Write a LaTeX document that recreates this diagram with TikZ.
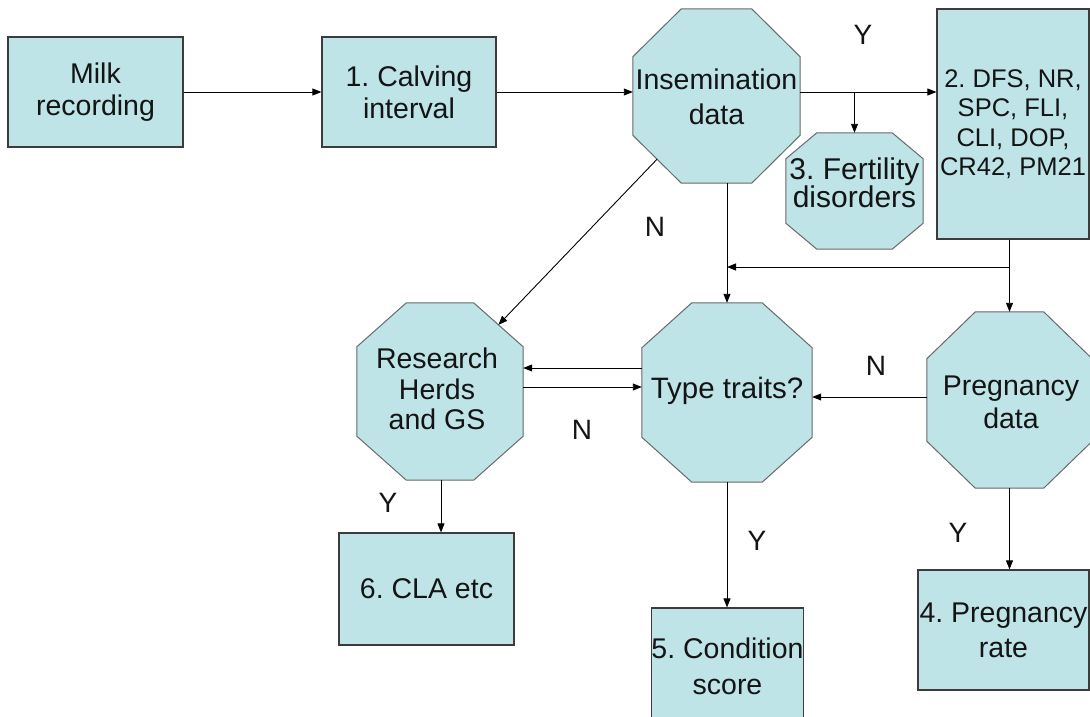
\documentclass[tikz,border=0pt]{standalone}
\usepackage{fontspec}
\setmainfont{Liberation Sans}
\usetikzlibrary{arrows.meta,calc,backgrounds}
\definecolor{boxfill}{RGB}{190,228,232}
\definecolor{boxline}{RGB}{60,60,60}
\definecolor{octline}{RGB}{105,105,105}
\definecolor{txtcol}{RGB}{20,20,20}
\frenchspacing
\newcommand\fsz[2]{\fontsize{#1pt}{#2pt}\selectfont\lineskiplimit=-50pt\relax}
\newcommand\octdraw[3]{%
  \filldraw[fill=boxfill,draw=octline,line width=1pt]
    ($(#1.north west)+(#2pt,0pt)$) -- ($(#1.north east)+(-#2pt,0pt)$) --
    ($(#1.north east)+(0pt,-#3pt)$) -- ($(#1.south east)+(0pt,#3pt)$) --
    ($(#1.south east)+(-#2pt,0pt)$) -- ($(#1.south west)+(#2pt,0pt)$) --
    ($(#1.south west)+(0pt,#3pt)$) -- ($(#1.north west)+(0pt,-#3pt)$) -- cycle;
  \coordinate (#1-ne) at ($(#1.north east)+(-0.5*#2pt,-0.5*#3pt)$);
  \coordinate (#1-sw) at ($(#1.south west)+(0.5*#2pt,0.5*#3pt)$);
}
\tikzset{
  box/.style={rectangle, draw=boxline, fill=boxfill, line width=1.2pt, inner sep=0pt,
    align=center, text=txtcol, font=\fsz{28.5}{33}},
  octn/.style={rectangle, draw=none, fill=none, inner sep=0pt},
  octtxt/.style={inner sep=0pt, align=center, text=txtcol},
  lbl/.style={inner sep=0pt, text=txtcol, font=\fsz{28}{30}},
  arr/.style={line width=0.9pt, draw=black, -{Triangle[length=9pt,width=7pt]}},
  plain/.style={line width=0.9pt, draw=black}
}
\begin{document}
\begin{tikzpicture}[x=1pt,y=-1pt]
\useasboundingbox (0,0) rectangle (1090,717);

% rectangles
\node[box, minimum width=175pt, minimum height=110pt, font=\fsz{28.5}{32}] (milk) at (95.5,92) {Milk\\recording};
\node[box, minimum width=174pt, minimum height=110pt, font=\fsz{28.5}{32}] (calv) at (409,92) {1. Calving\\interval};
\node[box, minimum width=152pt, minimum height=230pt, font=\fsz{25.5}{29.5}] (dfs) at (1013,124) {2. DFS, NR,\\SPC, FLI,\\CLI, DOP,\\CR42, PM21};
\node[box, minimum width=175pt, minimum height=112pt] (cla) at (426.5,589) {6. CLA etc};
\node[box, minimum width=149pt, minimum height=116pt, font=\fsz{28.5}{36}] (cond) at (727.5,666) {5. Condition\\score};
\node[box, minimum width=171pt, minimum height=120pt, font=\fsz{28.5}{35}] (rate) at (1003.5,630) {4. Pregnancy\\rate};

% octagon frames
\node[octn, minimum width=167pt, minimum height=174pt] (ins) at (716.5,96) {};
\node[octn, minimum width=137pt, minimum height=116pt] (fert) at (854.5,191) {};
\node[octn, minimum width=166pt, minimum height=177pt] (res) at (440,391.5) {};
\node[octn, minimum width=170pt, minimum height=179pt] (type) at (727,392.5) {};
\node[octn, minimum width=165pt, minimum height=176pt] (preg) at (1009.5,400) {};
\begin{pgfonlayer}{background}
  \fill[white] (0,0) rectangle (1090,717);
  \octdraw{ins}{48.5}{48}
  \octdraw{fert}{31}{26}
  \octdraw{res}{49.5}{44}
  \octdraw{type}{50}{45}
  \octdraw{preg}{48.5}{47}
\end{pgfonlayer}

% octagon texts
\node[octtxt, font=\fsz{28.5}{35}] (ins-t) at (716.5,97) {Insemination\\data};
\node[octtxt, font=\fsz{30}{28}] (fert-t) at (854.5,183) {3. Fertility\\disorders};
\node[octtxt, font=\fsz{28.5}{30.5}] (res-t) at (437,389) {Research\\Herds\\and GS};
\node[octtxt, font=\fsz{29.5}{32}] (type-t) at (727,391) {Type traits?};
\node[octtxt, font=\fsz{28.5}{33}] (preg-t) at (1011,402) {Pregnancy\\data};

% connectors
\draw[arr] (milk.east) -- (calv.west);
\draw[arr] (calv.east) -- (calv.east -| ins.west);
\draw[arr] (calv.east -| ins.east) -- (calv.east -| dfs.west);
\draw[arr] (calv.east -| fert.north) -- (fert.north);
\draw[arr] (ins-sw) -- (res-ne);
\draw[arr] (ins.south -| type.north) -- (type.north);
\draw[arr] (dfs.south -| preg.north) -- (preg.north);
\coordinate (jn) at (1009.5,267);
\draw[arr] (jn) -- (jn -| type.north);
\draw[arr] (type.west |- 0,368) -- (res.east |- 0,368);
\draw[arr] (res.east |- 0,387) -- (type.west |- 0,387);
\draw[arr] (preg.west |- 0,397) -- (type.east |- 0,397);
\draw[arr] (res.south -| 441,0) -- (cla.north -| 441,0);
\draw[arr] (type.south) -- (type.south |- cond.north);
\draw[arr] (preg.south) -- (preg.south |- rate.north);

% labels
\node[lbl] (y1) at (863,35) {Y};
\node[lbl] (n1) at (655,227) {N};
\node[lbl] (n2) at (582,430) {N};
\node[lbl] (n3) at (876,366) {N};
\node[lbl] (y2) at (388,503) {Y};
\node[lbl] (y3) at (757,541) {Y};
\node[lbl] (y4) at (958,533) {Y};
\end{tikzpicture}
\end{document}
